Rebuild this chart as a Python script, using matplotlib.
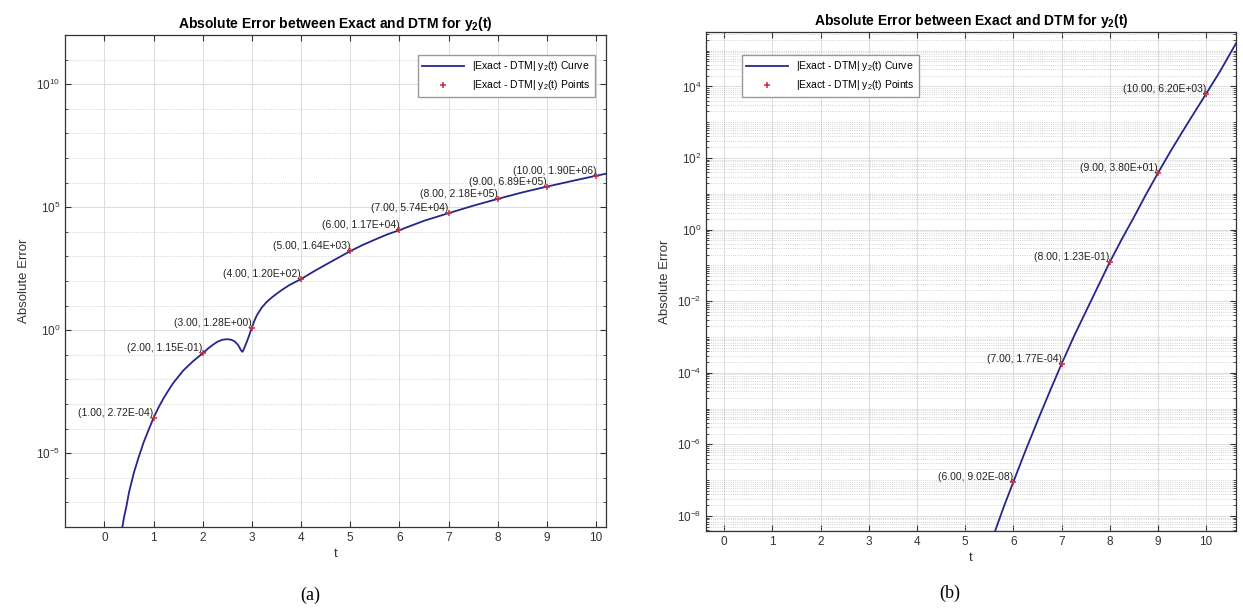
import numpy as np
import matplotlib
matplotlib.use('Agg')
import matplotlib.pyplot as plt
from matplotlib.ticker import FixedLocator, LogLocator, LogFormatterSciNotation, NullFormatter

plt.rcParams['font.family'] = ['Liberation Sans', 'DejaVu Sans']
plt.rcParams['mathtext.fontset'] = 'custom'
plt.rcParams['mathtext.rm'] = 'Liberation Sans'
plt.rcParams['mathtext.bf'] = 'Liberation Sans:bold'

# panel (a): marked points and curve
t_pts_a = [1, 2, 3, 4, 5, 6, 7, 8, 9, 10]
err_pts_a = [2.72e-4, 1.15e-1, 1.28e0, 1.20e2, 1.64e3, 1.17e4, 5.74e4, 2.18e5, 6.89e5, 1.90e6]
t_curve_a = [0.35, 0.4, 0.45, 0.5, 0.55, 0.6, 0.7, 0.8, 0.9, 1.0,
             1.1, 1.2, 1.3, 1.4, 1.5, 1.6, 1.7, 1.8, 1.9, 2.0,
             2.1, 2.2, 2.3, 2.4, 2.5, 2.58, 2.65, 2.72, 2.78, 2.81,
             2.85, 2.9, 2.95, 3.0, 3.05, 3.1, 3.2, 3.3, 3.4, 3.5,
             3.6, 3.75, 3.9, 4.0, 4.25, 4.5, 4.75, 5.0, 5.25, 5.5,
             5.75, 6.0, 6.5, 7.0, 7.5, 8.0, 8.5, 9.0, 9.5, 10.0, 10.2]
err_curve_a = [6.3e-9, 2.5e-8, 7.1e-8, 2.5e-7, 6.3e-7, 1.6e-6, 7.1e-6, 2.8e-5, 8.9e-5, 2.72e-4,
               7.1e-4, 1.66e-3, 3.5e-3, 7.1e-3, 1.26e-2, 2.24e-2, 3.5e-2, 5.4e-2, 7.9e-2, 1.15e-1,
               1.74e-1, 2.5e-1, 3.4e-1, 4.1e-1, 4.3e-1, 4.1e-1, 3.5e-1, 2.5e-1, 1.5e-1, 1.32e-1,
               2.0e-1, 3.5e-1, 6.6e-1, 1.28e0, 2.4e0, 4.0e0, 8.3e0, 1.4e1, 2.1e1, 3.0e1,
               4.2e1, 6.6e1, 9.5e1, 1.20e2, 2.4e2, 4.6e2, 8.7e2, 1.64e3, 2.9e3, 4.8e3,
               7.8e3, 1.17e4, 2.8e4, 5.74e4, 1.15e5, 2.18e5, 4.0e5, 6.89e5, 1.15e6, 1.90e6, 2.3e6]

# panel (b)
t_pts_b = [6, 7, 8, 9, 10]
err_pts_b = [9.02e-8, 1.77e-4, 1.23e-1, 3.80e1, 6.20e3]
t_curve_b = [5.6, 5.8, 6.0, 6.25, 6.5, 6.75, 7.0, 7.25, 7.5, 7.75, 8.0,
             8.25, 8.5, 8.75, 9.0, 9.25, 9.5, 9.75, 10.0, 10.3, 10.62]
err_curve_b = [3.2e-9, 1.8e-8, 9.02e-8, 6.6e-7, 4.5e-6, 2.9e-5, 1.77e-4, 1.0e-3, 5.0e-3, 2.5e-2, 1.23e-1,
               5.4e-1, 2.2e0, 9.5e0, 3.80e1, 1.45e2, 5.2e2, 1.82e3, 6.20e3, 2.8e4, 1.6e5]

x_ticks = list(range(0, 11))
y_ticks_a = [1e-5, 1e0, 1e5, 1e10]
y_ticks_b = [1e-8, 1e-6, 1e-4, 1e-2, 1e0, 1e2, 1e4]

title = r'Absolute Error between Exact and DTM for y$_\mathbf{2}$(t)'
lbl_curve = r'|Exact - DTM| y$_2$(t) Curve'
lbl_pts = r'|Exact - DTM| y$_2$(t) Points'

line_col = '#25258c'
pt_col = '#d0283c'
W, H = 1243, 609

fig = plt.figure(figsize=(W / 100, H / 100), dpi=100)


def px_axes(x0, x1, top, bottom):
    return fig.add_axes([x0 / W, 1 - bottom / H, (x1 - x0) / W, (bottom - top) / H])


def style(ax, xlim, ylim, majors, minor_subs):
    ax.set_yscale('log')
    ax.set_xlim(*xlim)
    ax.set_ylim(*ylim)
    ax.set_xticks(x_ticks)
    ax.yaxis.set_major_locator(FixedLocator(majors))
    ax.yaxis.set_major_formatter(LogFormatterSciNotation())
    ax.yaxis.set_minor_locator(LogLocator(base=10, subs=minor_subs, numticks=100))
    ax.yaxis.set_minor_formatter(NullFormatter())
    ax.grid(True, which='major', color='#dcdcdc', lw=0.7, ls='-')
    ax.grid(True, which='minor', axis='y', color='#c4c4c4', lw=0.6, ls=':')
    ax.tick_params(which='both', direction='in', top=True, right=True,
                   labelsize=8.5, labelcolor='#333333', color='#333333')
    ax.tick_params(which='major', length=4)
    ax.tick_params(which='minor', length=2)
    for s in ax.spines.values():
        s.set_color('#333333')
        s.set_linewidth(0.9)
    ax.set_title(title, fontsize=10, fontweight='bold', pad=5)
    ax.set_xlabel('t', fontsize=9.5, color='#333333', labelpad=3)
    ax.set_ylabel('Absolute Error', fontsize=9.5, color='#333333', labelpad=4)
    ax.set_axisbelow(True)


def draw(ax, tc, ec, tp, ep):
    ax.plot(tc, ec, color=line_col, lw=1.3, label=lbl_curve)
    ax.plot(tp, ep, ls='none', marker='+', ms=5, mew=1.1, color=pt_col, label=lbl_pts)
    for t, e in zip(tp, ep):
        ax.text(t, e, f'({t:.2f}, {e:.2E})', fontsize=7.5, color='#222222',
                ha='right', va='bottom')


ax_a = px_axes(65, 606, 35, 527)
style(ax_a, (-0.8, 10.2), (1e-8, 1e12), y_ticks_a, (1.0,))
draw(ax_a, t_curve_a, err_curve_a, t_pts_a, err_pts_a)
ax_a.legend(loc='upper right', bbox_to_anchor=(1 - 11 / 541, 1 - 20 / 492),
            borderaxespad=0, fontsize=7.5, handlelength=4, fancybox=False,
            framealpha=1, edgecolor='#999999')

ax_b = px_axes(706, 1236, 32, 531)
style(ax_b, (-0.38, 10.62), (10 ** -8.42, 10 ** 5.52), y_ticks_b, np.arange(1, 10))
draw(ax_b, t_curve_b, err_curve_b, t_pts_b, err_pts_b)
ax_b.legend(loc='upper left', bbox_to_anchor=(36 / 530, 1 - 23 / 499),
            borderaxespad=0, fontsize=7.5, handlelength=4, fancybox=False,
            framealpha=1, edgecolor='#999999')

fig.text(310 / W, 1 - 595 / H, '(a)', family='Liberation Serif', fontsize=13,
         ha='center', va='center')
fig.text(950 / W, 1 - 593 / H, '(b)', family='Liberation Serif', fontsize=13,
         ha='center', va='center')

fig.savefig('out.png', dpi=100)
